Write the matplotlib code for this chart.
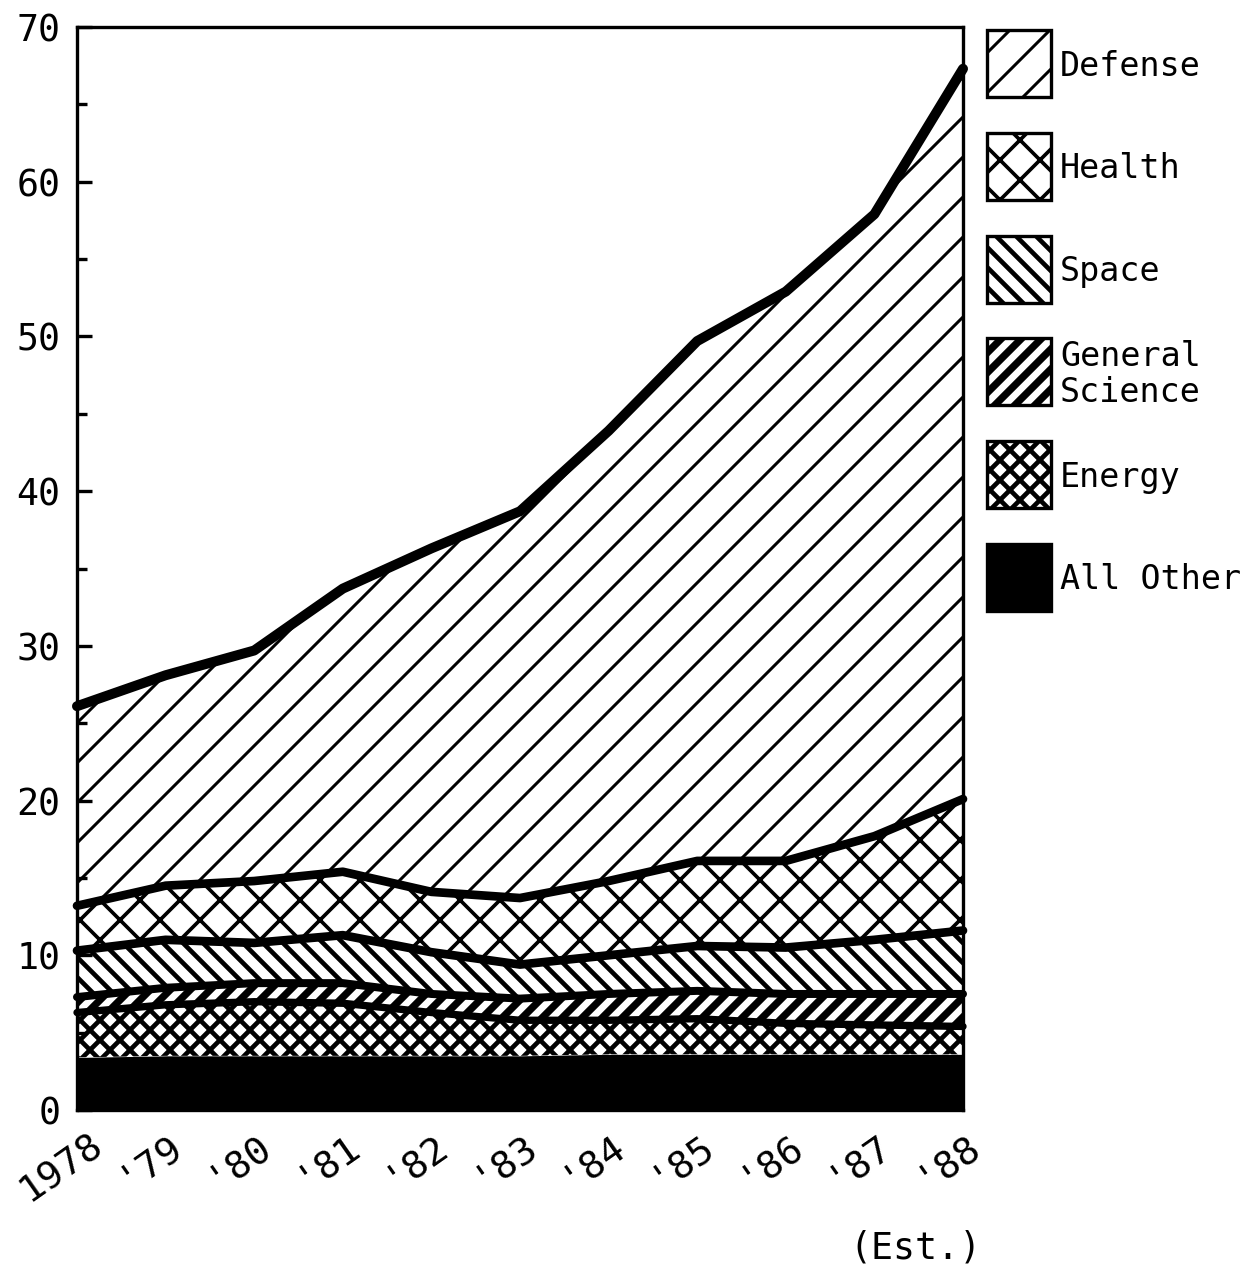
import numpy as np
import matplotlib
matplotlib.use("Agg")
import matplotlib.pyplot as plt
import matplotlib.transforms as mtransforms
from matplotlib.patches import Rectangle

# ── Data (billions of dollars) ──
years = [1978, 1979, 1980, 1981, 1982, 1983, 1984, 1985, 1986, 1987, 1988]
year_labels = ["1978", "'79", "'80", "'81", "'82", "'83", "'84", "'85", "'86", "'87", "'88"]

all_other = [3.4, 3.5, 3.5, 3.5, 3.5, 3.5, 3.6, 3.6, 3.6, 3.6, 3.6]
energy = [2.9, 3.3, 3.5, 3.4, 2.8, 2.3, 2.2, 2.3, 2.0, 1.9, 1.8]
gen_sci = [1.0, 1.1, 1.2, 1.3, 1.2, 1.4, 1.7, 1.8, 1.9, 2.0, 2.1]
space = [3.0, 3.1, 2.6, 3.1, 2.7, 2.2, 2.5, 2.9, 3.0, 3.5, 4.1]
health = [2.9, 3.5, 4.0, 4.1, 3.9, 4.3, 4.8, 5.5, 5.6, 6.7, 8.5]
defense = [12.9, 13.6, 14.9, 18.3, 22.2, 25.0, 29.1, 33.6, 36.8, 40.2, 47.2]

# bottom to top: name, values, hatch, hatch lw, face, boundary lw
layers = [
    ("All Other", all_other, None, 0.0, "black", 2.2),
    ("Energy", energy, "xxxx", 1.4, "white", 2.2),
    ("General\nScience", gen_sci, "////", 2.2, "white", 2.4),
    ("Space", space, "\\\\\\\\", 1.4, "white", 2.6),
    ("Health", health, "xx", 1.1, "white", 2.6),
    ("Defense", defense, "//", 0.9, "white", 3.0),
]

plt.rcParams["font.family"] = ["DejaVu Sans Mono", "DejaVu Sans"]

DPI = 240
fig = plt.figure(figsize=(1240 / DPI, 1266 / DPI), dpi=DPI)
ax = fig.add_axes([77 / 1240, 1 - 1110 / 1266, (963 - 77) / 1240, (1110 - 27) / 1266])

x = np.array(years)
base = np.zeros(len(years))
tops = []
for name, vals, hatch, hlw, fc, lw in layers:
    top = base + np.array(vals)
    with plt.rc_context({"hatch.linewidth": hlw, "hatch.color": "black"}):
        ax.fill_between(x, base, top, facecolor=fc, edgecolor="black",
                        hatch=hatch, linewidth=0, zorder=1)
    tops.append((top, lw))
    base = top

for top, lw in tops[1:]:
    ax.plot(x, top, color="black", linewidth=lw, solid_capstyle="round",
            solid_joinstyle="round", clip_on=False, zorder=3)

ax.set_xlim(1978, 1988)
ax.set_ylim(0, 70)
ax.set_yticks(range(0, 71, 10))
ax.set_yticks(range(5, 70, 10), minor=True)
ax.tick_params(axis="y", which="major", direction="in", length=4.5, width=1.0,
               labelsize=11, pad=5)
ax.tick_params(axis="y", which="minor", direction="in", length=3, width=1.0)
ax.set_xticks(years)
ax.set_xticklabels(year_labels, rotation=35, ha="center", fontsize=11.5)
ax.tick_params(axis="x", length=0, pad=5)
shift = mtransforms.ScaledTranslation(-0.065, 0, fig.dpi_scale_trans)
for lbl in ax.get_xticklabels():
    lbl.set_transform(lbl.get_transform() + shift)
for s in ax.spines.values():
    s.set_linewidth(1.0)
    s.set_zorder(4)

# ── Legend (boxes drawn in figure coordinates) ──
for i, (name, vals, hatch, hlw, fc, lw) in enumerate(reversed(layers)):
    top_px = 30 + 102.8 * i
    with plt.rc_context({"hatch.linewidth": hlw, "hatch.color": "black"}):
        rect = Rectangle((987 / 1240, 1 - (top_px + 67) / 1266), 64 / 1240, 67 / 1266,
                         transform=fig.transFigure, facecolor=fc, edgecolor="black",
                         hatch=hatch, linewidth=1.0)
    fig.add_artist(rect)
    fig.text(1060 / 1240, 1 - (top_px + 36) / 1266, name, fontsize=10,
             va="center", ha="left", linespacing=1.1)

fig.text(915 / 1240, 1 - 1248 / 1266, "(Est.)", fontsize=11, ha="center", va="center")

fig.savefig("out.png", dpi=DPI)
